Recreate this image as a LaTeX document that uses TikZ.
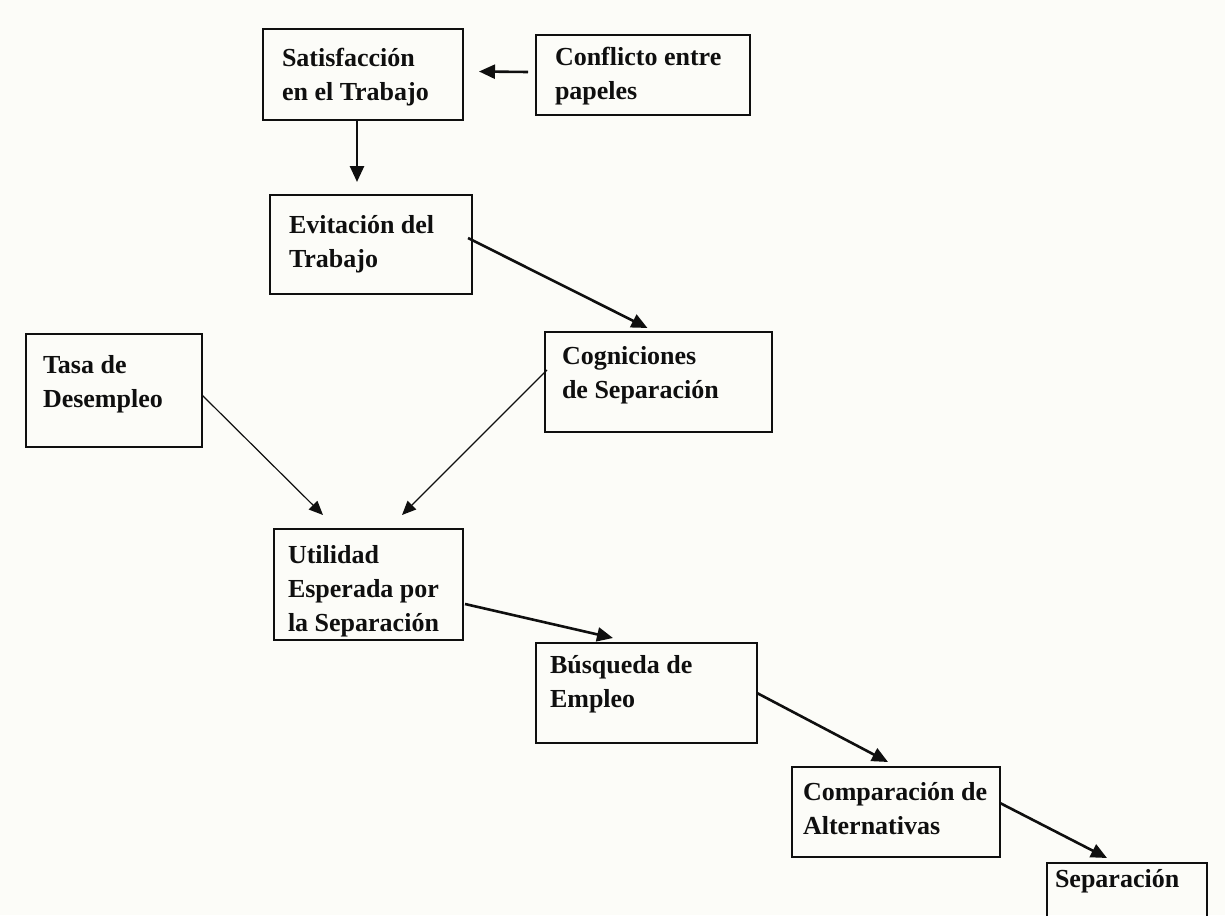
\documentclass[tikz,border=0pt]{standalone}
\usepackage{fontspec}
\setmainfont{Liberation Serif}
\usetikzlibrary{arrows.meta}
\definecolor{bgc}{RGB}{252,252,248}
\definecolor{ink}{RGB}{15,15,15}
\tikzset{
  box/.style={draw=ink, line width=2pt, rectangle, inner sep=0pt, outer sep=0pt, anchor=north west},
  lbl/.style={inner sep=0pt, outer sep=0pt, anchor=base west, text=ink, font=\bfseries\fontsize{26}{34}\selectfont},
  arr/.style={draw=ink, line width=2.6pt, -{Triangle[length=16pt,width=14pt]}},
  tarr/.style={draw=ink, line width=1.2pt, -{Triangle[length=14pt,width=12pt]}},
}
\newcommand{\lines}[1]{\begin{tabular}[t]{@{}l@{}}#1\end{tabular}}
\begin{document}
\begin{tikzpicture}[x=1pt,y=-1pt]
\fill[bgc] (0,0) rectangle (1225,915);
\useasboundingbox (0,0) rectangle (1225,915);
% boxes
\node[box, minimum width=200pt, minimum height=91pt] (sat) at (263,29) {};
\node[box, minimum width=214pt, minimum height=80pt] (con) at (536,35) {};
\node[box, minimum width=202pt, minimum height=99pt] (evi) at (270,195) {};
\node[box, minimum width=227pt, minimum height=100pt] (cog) at (545,332) {};
\node[box, minimum width=176pt, minimum height=113pt] (tasa) at (26,334) {};
\node[box, minimum width=189pt, minimum height=111pt] (util) at (274,529) {};
\node[box, minimum width=221pt, minimum height=100pt] (bus) at (536,643) {};
\node[box, minimum width=208pt, minimum height=90pt] (comp) at (792,767) {};
\node[box, minimum width=160pt, minimum height=80pt] (sep) at (1047,863) {};
% texts
\node[lbl] (satt) at (282,67) {\lines{Satisfacción\\en el Trabajo}};
\node[lbl] (cont) at (555,66) {\lines{Conflicto entre\\papeles}};
\node[lbl] (evit) at (289,233) {\lines{Evitación del\\Trabajo}};
\node[lbl] (cogt) at (562,364) {\lines{Cogniciones\\de Separación}};
\node[lbl] (tasat) at (43,373) {\lines{Tasa de\\Desempleo}};
\node[lbl] (utilt) at (288,563) {\lines{Utilidad\\Esperada por\\la Separación}};
\node[lbl] (bust) at (550,673) {\lines{Búsqueda de\\Empleo}};
\node[lbl] (compt) at (803,800) {\lines{Comparación de\\Alternativas}};
\node[lbl] (sept) at (1055,887) {\lines{Separación}};
% connectors
\draw[arr] ([xshift=-8pt,yshift=3pt]con.west) -- ([xshift=16pt,yshift=3pt]sat.east);
\draw[arr] ([xshift=-6pt]sat.south) -- ([xshift=-14pt,yshift=13pt]evi.north);
\draw[arr] ([xshift=-4pt,yshift=6.5pt]evi.east) -- ([xshift=-11pt,yshift=4pt]cog.north);
\draw[tarr] ([yshift=-4.5pt]tasa.east) -- ([xshift=-45.5pt,yshift=14pt]util.north);
\draw[tarr] ([xshift=2pt,yshift=12pt]cog.west) -- ([xshift=33.5pt,yshift=14pt]util.north);
\draw[arr] ([xshift=2pt,yshift=-19.5pt]util.east) -- ([xshift=-33.5pt,yshift=5pt]bus.north);
\draw[arr] (bus.east) -- ([xshift=-8pt,yshift=5pt]comp.north);
\draw[arr] ([yshift=9pt]comp.east) -- ([xshift=-20pt,yshift=5pt]sep.north);
\end{tikzpicture}
\end{document}
